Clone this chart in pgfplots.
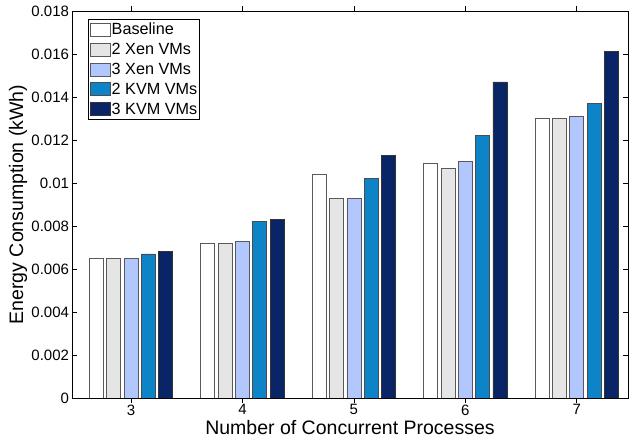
\documentclass[border=0pt]{standalone}
\usepackage{fontspec}
\setmainfont{Liberation Sans}
\usepackage{pgfplots}
\pgfplotsset{compat=1.18}
\definecolor{cA}{RGB}{255,255,255}
\definecolor{cB}{RGB}{229,229,229}
\definecolor{cC}{RGB}{179,199,255}
\definecolor{cD}{RGB}{12,132,199}
\definecolor{cE}{RGB}{10,36,104}
\begin{document}
\begin{tikzpicture}
\begin{axis}[
  scale only axis, width=556pt, height=387pt,
  xmin=2.47, xmax=7.46, ymin=0, ymax=0.018,
  xtick={3,4,5,6,7},
  xticklabels={3,4,5,6,7},
  ytick={0,0.002,0.004,0.006,0.008,0.01,0.012,0.014,0.016,0.018},
  yticklabels={0,0.002,0.004,0.006,0.008,0.01,0.012,0.014,0.016,0.018},
  scaled y ticks=false,
  /pgf/number format/assume math mode=true,
  tick align=inside, major tick length=5pt,
  tick pos=both,
  ybar=3.3pt, bar width=14pt,
  axis line style={line width=0.9pt},
  tick style={line width=0.7pt, black},
  xlabel={Number of Concurrent Processes},
  ylabel={Energy Consumption (kWh)},
  tick label style={font=\fontsize{15}{16}\selectfont},
  label style={font=\fontsize{19.5}{21}\selectfont},
  xlabel style={at={(axis description cs:0.5,-0.095)}, anchor=base},
  ylabel style={at={(axis description cs:-0.088,0.5)}, anchor=base},
  yticklabel style={xshift=0.5pt},
  xticklabel style={yshift=2pt},
  legend style={at={(0.029,0.98)}, anchor=north west, font=\fontsize{16.2}{17}\selectfont,
    draw=black, line width=0.6pt, inner xsep=1.5pt, inner ysep=1.5pt, row sep=2pt,
    legend cell align=left,
    nodes={inner xsep=1pt, inner ysep=2.5pt}},
  legend image code/.code={\draw[#1, line width=0.8pt] (0pt,-6.5pt) rectangle (20pt,6.5pt);},
]
\addplot[fill=cA, draw=black!65, line width=0.8pt] coordinates {(3,0.0065) (4,0.0072) (5,0.0104) (6,0.0109) (7,0.0130)};
\addplot[fill=cB, draw=black!65, line width=0.8pt] coordinates {(3,0.0065) (4,0.0072) (5,0.0093) (6,0.0107) (7,0.0130)};
\addplot[fill=cC, draw=black!65, line width=0.8pt] coordinates {(3,0.0065) (4,0.0073) (5,0.0093) (6,0.0110) (7,0.0131)};
\addplot[fill=cD, draw=black!70, line width=0.8pt] coordinates {(3,0.0067) (4,0.0082) (5,0.0102) (6,0.0122) (7,0.0137)};
\addplot[fill=cE, draw=black!80, line width=0.8pt] coordinates {(3,0.0068) (4,0.0083) (5,0.0113) (6,0.0147) (7,0.0161)};
\legend{Baseline,2 Xen VMs,3 Xen VMs,2 KVM VMs,3 KVM VMs}
\end{axis}
\pgfresetboundingbox
\path ([xshift=-72pt,yshift=-40pt]current axis.south west) rectangle ([xshift=3pt,yshift=11pt]current axis.north east);
\end{tikzpicture}
\end{document}
